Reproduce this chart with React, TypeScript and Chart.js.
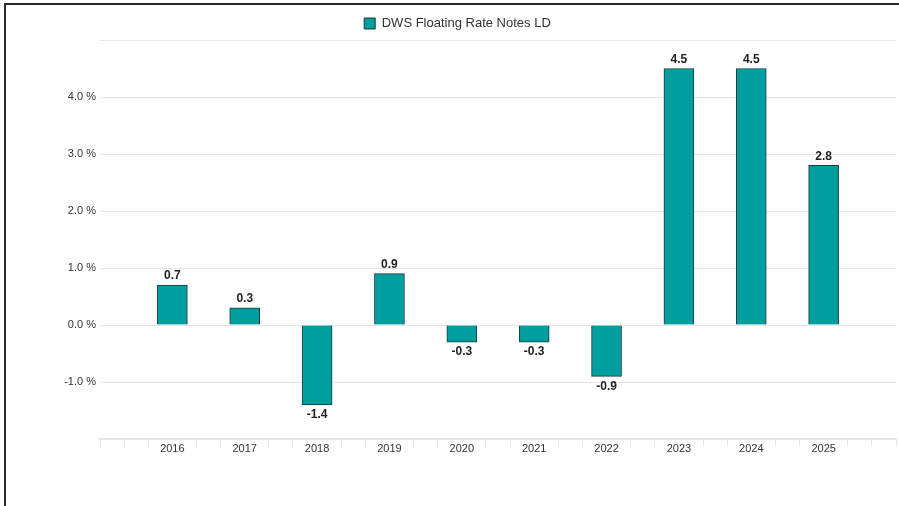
import { useEffect, useRef } from 'react';
import { Chart, registerables } from 'chart.js';

Chart.register(...registerables);

const categories = [2016, 2017, 2018, 2019, 2020, 2021, 2022, 2023, 2024, 2025];
const seriesName = 'DWS Floating Rate Notes LD';
const values = [0.7, 0.3, -1.4, 0.9, -0.3, -0.3, -0.9, 4.5, 4.5, 2.8];
const yMin = -2;
const yMax = 5;
const yLabeledTicks = [-1, 0, 1, 2, 3, 4];

const FONT = '"Liberation Sans", Arial, Helvetica, sans-serif';
const TEAL = '#009e9f';
const BAR_BORDER = '#1c3a3a';
const GRID = '#e6e6e6';
const TEXT = '#333333';

const isWhole = (v: number) => Math.abs(v - Math.round(v)) < 1e-6;

const valueLabels = {
  id: 'valueLabels',
  afterDatasetsDraw(chart: any) {
    const ctx = chart.ctx;
    const meta = chart.getDatasetMeta(0);
    ctx.save();
    ctx.font = 'bold 12px ' + FONT;
    ctx.fillStyle = '#222222';
    ctx.textAlign = 'center';
    meta.data.forEach((el: any, i: number) => {
      const v = values[i];
      const txt = v.toFixed(1);
      if (v >= 0) {
        ctx.textBaseline = 'bottom';
        ctx.fillText(txt, el.x, el.y - 3);
      } else {
        ctx.textBaseline = 'top';
        ctx.fillText(txt, el.x, el.y + 4);
      }
    });
    ctx.restore();
  },
};

export default function App() {
  const ref = useRef<HTMLCanvasElement | null>(null);

  useEffect(() => {
    if (!ref.current) return;
    Chart.defaults.font.family = FONT;
    const chart = new Chart(ref.current, {
      type: 'bar',
      data: {
        datasets: [
          {
            label: seriesName,
            data: categories.map((c, i) => ({ x: c, y: values[i] })),
            backgroundColor: TEAL,
            borderColor: BAR_BORDER,
            borderWidth: 1,
            barThickness: 30,
          },
        ],
      },
      options: {
        responsive: false,
        animation: false,
        layout: { padding: { top: 1, right: 3, left: 19, bottom: 0 } },
        plugins: {
          legend: {
            display: true,
            position: 'top',
            labels: {
              boxWidth: 11,
              boxHeight: 11,
              padding: 16,
              color: TEXT,
              font: { size: 13, family: FONT },
            },
          },
          tooltip: { enabled: false },
        },
        scales: {
          x: {
            type: 'linear',
            offset: false,
            min: categories[0] - 1,
            max: categories[categories.length - 1] + 1,
            afterFit: (scale: any) => {
              scale.height = 67;
            },
            ticks: {
              stepSize: 1 / 3,
              autoSkip: false,
              maxRotation: 0,
              padding: -4,
              color: TEXT,
              font: { size: 11, family: FONT },
              callback: (value: any) => {
                const v = Number(value);
                const r = Math.round(v);
                if (isWhole(v) && categories.includes(r)) return String(r);
                return '';
              },
            },
            grid: {
              offset: false,
              drawOnChartArea: false,
              drawTicks: true,
              tickLength: 7,
              tickWidth: 1,
              tickColor: (ctx: any) => {
                const v = ctx.tick ? ctx.tick.value : 0;
                const r = Math.round(v);
                if (isWhole(v) && categories.includes(r)) return 'rgba(0,0,0,0)';
                return GRID;
              },
            },
            border: { display: true, color: GRID, width: 2 },
          },
          y: {
            min: yMin,
            max: yMax,
            afterFit: (scale: any) => {
              scale.width = 81;
            },
            ticks: {
              stepSize: 1,
              padding: 4,
              color: TEXT,
              font: { size: 11, family: FONT },
              callback: (value: any) => {
                const v = Number(value);
                if (yLabeledTicks.includes(v)) return v.toFixed(1) + ' %';
                return '';
              },
            },
            grid: {
              color: GRID,
              lineWidth: 1,
              drawTicks: false,
            },
            border: { display: false },
          },
        },
      },
      plugins: [valueLabels],
    });
    return () => chart.destroy();
  }, []);

  return (
    <div style={{ position: 'absolute', left: 0, top: 0, width: 899, height: 506, background: '#ffffff', overflow: 'hidden' }}>
      <div
        style={{
          position: 'absolute',
          left: 4,
          top: 3,
          right: 0,
          bottom: 0,
          borderTop: '2px solid #2a2a2a',
          borderLeft: '2px solid #2a2a2a',
        }}
      />
      <canvas ref={ref} width={899} height={506} style={{ position: 'absolute', left: 0, top: 0 }} />
    </div>
  );
}
